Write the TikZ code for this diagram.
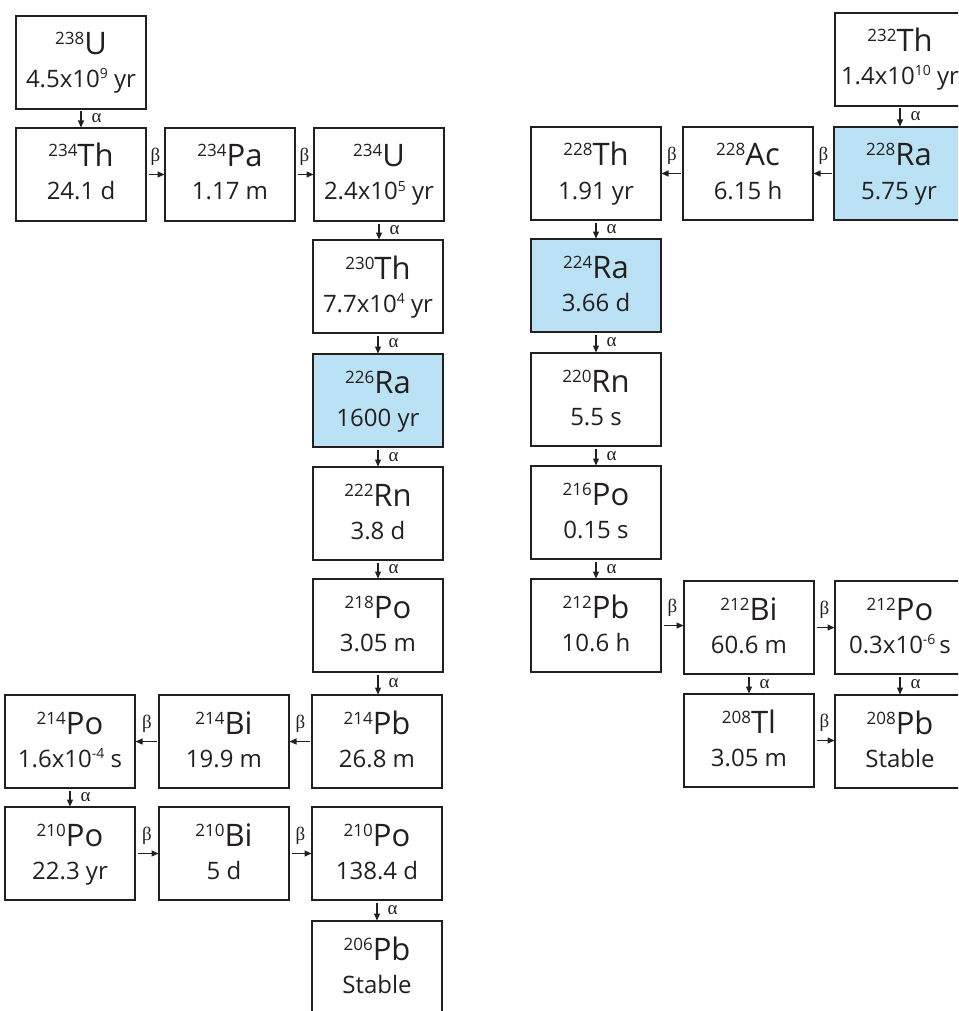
\documentclass[tikz,border=0pt]{standalone}
\usepackage{fontspec}
\setmainfont{Open Sans}
\newfontfamily\grk{Liberation Serif}
\usetikzlibrary{arrows.meta}
\definecolor{ink}{RGB}{35,31,32}
\definecolor{rablue}{RGB}{187,226,244}
\newcommand\sym[2]{\raisebox{10pt}{\fontsize{17}{17}\selectfont #1}#2}
\newcommand\ex[1]{\raisebox{9pt}{\fontsize{14}{14}\selectfont #1}}
\tikzset{
  nbox/.style={draw=ink, line width=1.8pt, minimum width=130pt, minimum height=93pt,
    anchor=north west, inner sep=0pt, outer sep=0pt},
  symtxt/.style={anchor=base, inner sep=0pt, text=ink, font=\fontsize{31}{31}\selectfont},
  lifetxt/.style={anchor=base, inner sep=0pt, text=ink, font=\fontsize{24}{24}\selectfont},
  arr/.style={draw=ink, line width=1.1pt, -{Triangle[length=7pt,width=6pt]}, shorten <=2.5pt, shorten >=0.5pt},
  glab/.style={inner sep=0pt, text=ink, font=\grk\fontsize{19}{19}\selectfont}
}
\newcommand\nuc[7][white]{%
  \node[nbox, fill=#1] (#2) at (#3,#4) {};
  \node[symtxt] (#2s) at ([yshift=-39pt]#2.north) {\sym{#5}{#6}};
  \node[lifetxt] (#2l) at ([yshift=-72pt]#2.north) {#7};
}
\newcommand\adec[3]{\draw[arr] (#1.south) -- (#1.south |- #2.north)
  node[glab, pos=0.5, right=10pt] (#3) {α};}
\newcommand\bright[3]{\draw[arr] (#1.east) -- (#1.east -| #2.west)
  node[glab, midway, above=8pt] (#3) {β};}
\newcommand\bleft[3]{\draw[arr] (#1.west) -- (#1.west -| #2.east)
  node[glab, midway, above=8pt] (#3) {β};}
\begin{document}
\begin{tikzpicture}[x=1pt, y=-1pt]
\useasboundingbox (0,0) rectangle (958,1011);
\clip (0,0) rectangle (958,1011);
% uranium series
\nuc{uA}{16}{16}{238}{U}{4.5x10\ex{9} yr}
\nuc{thA}{16}{128}{234}{Th}{24.1 d}
\nuc{paA}{165}{128}{234}{Pa}{1.17 m}
\nuc{uB}{314}{128}{234}{U}{2.4x10\ex{5} yr}
\nuc{thB}{313}{240}{230}{Th}{7.7x10\ex{4} yr}
\nuc[rablue]{raA}{313}{354}{226}{Ra}{1600 yr}
\nuc{rnA}{313}{467}{222}{Rn}{3.8 d}
\nuc{poA}{313}{579}{218}{Po}{3.05 m}
\nuc{pbA}{312}{695}{214}{Pb}{26.8 m}
\nuc{biA}{159}{695}{214}{Bi}{19.9 m}
\nuc{poB}{5}{695}{214}{Po}{1.6x10\ex{-4} s}
\nuc{poC}{5}{807}{210}{Po}{22.3 yr}
\nuc{biB}{159}{807}{210}{Bi}{5 d}
\nuc{poD}{312}{807}{210}{Po}{138.4 d}
\nuc{pbB}{312}{921}{206}{Pb}{Stable}
% thorium series
\nuc{thC}{835}{13}{232}{Th}{1.4x10\ex{10} yr}
\nuc[rablue]{raB}{834}{127}{228}{Ra}{5.75 yr}
\nuc{acA}{683}{127}{228}{Ac}{6.15 h}
\nuc{thD}{531}{127}{228}{Th}{1.91 yr}
\nuc[rablue]{raC}{531}{239}{224}{Ra}{3.66 d}
\nuc{rnB}{531}{353}{220}{Rn}{5.5 s}
\nuc{poE}{531}{466}{216}{Po}{0.15 s}
\nuc{pbC}{531}{579}{212}{Pb}{10.6 h}
\nuc{biC}{684}{581}{212}{Bi}{60.6 m}
\nuc{poF}{835}{581}{212}{Po}{0.3x10\ex{-6}\,s}
\nuc{tlA}{684}{694}{208}{Tl}{3.05 m}
\nuc{pbD}{835}{695}{208}{Pb}{Stable}
% alpha decays
\adec{uA}{thA}{a1}
\adec{uB}{thB}{a2}
\adec{thB}{raA}{a3}
\adec{raA}{rnA}{a4}
\adec{rnA}{poA}{a5}
\adec{poA}{pbA}{a6}
\adec{poB}{poC}{a7}
\adec{poD}{pbB}{a8}
\adec{thC}{raB}{a9}
\adec{thD}{raC}{a10}
\adec{raC}{rnB}{a11}
\adec{rnB}{poE}{a12}
\adec{poE}{pbC}{a13}
\adec{biC}{tlA}{a14}
\adec{poF}{pbD}{a15}
% beta decays
\bright{thA}{paA}{b1}
\bright{paA}{uB}{b2}
\bleft{pbA}{biA}{b3}
\bleft{biA}{poB}{b4}
\bright{poC}{biB}{b5}
\bright{biB}{poD}{b6}
\bleft{raB}{acA}{b7}
\bleft{acA}{thD}{b8}
\bright{pbC}{biC}{b9}
\bright{biC}{poF}{b10}
\bright{tlA}{pbD}{b11}
\end{tikzpicture}
\end{document}
